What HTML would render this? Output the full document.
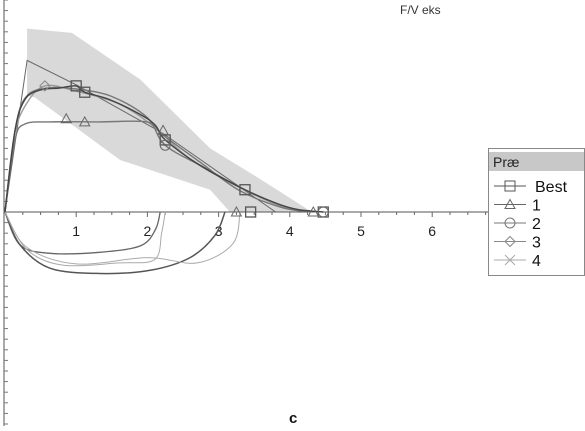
<!DOCTYPE html>
<html><head><meta charset="utf-8"><style>
body{margin:0;background:#fff;width:585px;height:426px;overflow:hidden;font-family:"Liberation Sans",sans-serif}
</style></head><body>
<svg id="c" width="585" height="426" viewBox="0 0 585 426" xmlns="http://www.w3.org/2000/svg"></svg>
<script>
const xTicks=[1,2,3,4,5,6];
const band=[[0.31,17.3],[0.94,16.9],[1.90,12.5],[2.88,6.0],[3.61,3.0],[4.31,0],[3.16,0],[2.88,2.1],[1.62,4.9],[0.42,10.8],[0.31,11.0]];
const predicted=[[0,0],[0.31,14.3],[1.0,12.0],[2.2,7.5],[3.8,0]];
const best=[[0,0],[0.14,7.7],[0.28,10.6],[0.49,11.5],[0.77,11.7],[1.0,11.9],[1.12,11.3],[1.47,10.6],[1.90,9.2],[2.11,8.2],[2.25,6.8],[2.74,4.4],[3.37,2.1],[3.86,0.7],[4.14,0.2],[4.47,0]];
const trial1=[[0,0],[0.14,6.8],[0.28,8.3],[0.63,8.5],[1.33,8.5],[1.99,8.5],[2.18,7.5],[2.25,7.1],[2.74,4.7],[3.30,2.0],[3.9,0.4],[4.33,0]];
const trial2=[[0,0],[0.15,8.0],[0.3,10.9],[0.6,11.7],[1.0,11.6],[1.5,10.9],[2.0,8.9],[2.25,6.3],[2.8,4.2],[3.4,2.0],[4.0,0.4],[4.47,0]];
const trial3=[[0,0],[0.13,7.2],[0.3,10.2],[0.56,11.9],[1.0,11.4],[1.6,10.2],[2.1,8.0],[2.6,5.0],[3.3,2.3],[3.9,0.5],[4.4,0]];
const inspA=[[0,0],[0.21,-3.1],[0.63,-3.9],[1.33,-3.8],[1.90,-3.2],[2.11,-1.7],[2.18,0]];
const inspB=[[0,0],[0.21,-3.1],[0.63,-5.3],[1.33,-5.8],[2.04,-5.5],[2.60,-4.3],[2.95,-2.2],[3.09,0]];
const inspC=[[0,0],[0.3,-3.5],[0.8,-5.0],[1.6,-4.8],[2.1,-4.5],[2.2,-2],[2.25,0]];
const inspD=[[0,0],[0.3,-3.3],[1.0,-4.9],[2.0,-4.3],[2.7,-4.8],[3.2,-3],[3.3,0]];
const squares=[[1.0,11.9],[1.12,11.3],[2.25,6.8],[3.37,2.1],[3.45,0],[4.47,0]];
const triangles=[[0.86,8.8],[1.12,8.5],[2.22,7.7],[3.25,0],[4.33,0]];
const circles=[[2.25,6.3],[4.47,0]];
const diamonds=[[0.56,11.9]];
const X=v=>5+v*71.2, Y=v=>212-v*10.6;
const s=document.getElementById('c'),NS='http://www.w3.org/2000/svg';
function mk(t,a,n){const e=document.createElementNS(NS,t);for(const k in a)e.setAttribute(k,a[k]);


s.appendChild(e);return e;}
const pts=a=>a.map(p=>X(p[0]).toFixed(1)+','+Y(p[1]).toFixed(1)).join(' ');
function smooth(a){const P=a.map(p=>[X(p[0]),Y(p[1])]);let d='M'+P[0][0]+','+P[0][1];
for(let i=0;i<P.length-1;i++){const p0=P[Math.max(0,i-1)],p1=P[i],p2=P[i+1],p3=P[Math.min(P.length-1,i+2)];
const c1=[p1[0]+(p2[0]-p0[0])/6,p1[1]+(p2[1]-p0[1])/6],c2=[p2[0]-(p3[0]-p1[0])/6,p2[1]-(p3[1]-p1[1])/6];
d+=` C${c1[0].toFixed(1)},${c1[1].toFixed(1)} ${c2[0].toFixed(1)},${c2[1].toFixed(1)} ${p2[0].toFixed(1)},${p2[1].toFixed(1)}`;}return d;}
mk('polygon',{points:pts(band),fill:'#d9d9d9'},'normal-range-band');
mk('line',{x1:4,y1:0,x2:4,y2:426,stroke:'#555'},'y-axis');
for(let i=0;i*10.6<426;i++){const y=212-i*10.6,y2=212+i*10.6;
[y,y2].forEach(yy=>{if(yy>=0&&yy<=426){mk('line',{x1:4,y1:yy,x2:8,y2:yy,stroke:'#777'},'y-tick');}});}
mk('line',{x1:4,y1:212,x2:488,y2:212,stroke:'#555'},'x-axis');
for(let v=0.25;v<6.8;v+=0.25){mk('line',{x1:X(v),y1:212,x2:X(v),y2:Math.abs(v%1)<0.01?217:215,stroke:'#666'},'x-tick');}
xTicks.forEach(v=>{const t=mk('text',{x:X(v),y:236,'text-anchor':'middle','font-size':14,fill:'#222'},'x-tick-label');t.textContent=v;});
[[inspA,'#666',1.3],[inspB,'#555',1.5],[inspC,'#aaa',1],[inspD,'#aaa',1]].forEach(c=>mk('path',{d:smooth(c[0]),fill:'none',stroke:c[1],'stroke-width':c[2]},'inspiration-curve'));
mk('polyline',{points:pts(predicted),fill:'none',stroke:'#666','stroke-width':1},'predicted-line');
[[trial3,'#999'],[trial2,'#777'],[trial1,'#777'],[best,'#444']].forEach(c=>mk('path',{d:smooth(c[0]),fill:'none',stroke:c[1],'stroke-width':1.4},'expiration-curve'));
squares.forEach(p=>mk('rect',{x:X(p[0])-5,y:Y(p[1])-5,width:10,height:10,fill:'none',stroke:'#555','stroke-width':1.3},'best-marker'));
triangles.forEach(p=>{const x=X(p[0]),y=Y(p[1]);mk('polygon',{points:`${x-5},${y+4} ${x+5},${y+4} ${x},${y-5}`,fill:'none',stroke:'#666'},'trial1-marker');});
circles.forEach(p=>mk('circle',{cx:X(p[0]),cy:Y(p[1]),r:5,fill:'none',stroke:'#666'},'trial2-marker'));
diamonds.forEach(p=>{const x=X(p[0]),y=Y(p[1]);mk('polygon',{points:`${x-5},${y} ${x},${y-5} ${x+5},${y} ${x},${y+5}`,fill:'none',stroke:'#888'},'trial3-marker');});
mk('text',{x:400,y:14,'font-size':12,fill:'#333'},'chart-title').textContent='F/V eks';
mk('text',{x:289,y:423,'font-size':15,'font-weight':'bold',fill:'#111'},'panel-label').textContent='c';
mk('rect',{x:488.5,y:148.5,width:96,height:127,fill:'#fff',stroke:'#888'},'legend-box');
mk('rect',{x:489,y:152,width:95,height:19,fill:'#c8c8c8'},'legend-header');
mk('text',{x:493,y:167,'font-size':14,fill:'#222'},'legend-title').textContent='Præ';
const lg=[['Best','sq','#555'],['1','tr','#666'],['2','ci','#777'],['3','di','#888'],['4','x','#aaa']];
lg.forEach((l,i)=>{const y=186+i*18.5,cx=510;
mk('line',{x1:494,y1:y,x2:526,y2:y,stroke:l[2]},'legend-line');
if(l[1]=='sq')mk('rect',{x:cx-5,y:y-5,width:10,height:10,fill:'none',stroke:l[2]},'legend-marker');
if(l[1]=='tr')mk('polygon',{points:`${cx-5},${y+4} ${cx+5},${y+4} ${cx},${y-5}`,fill:'none',stroke:l[2]},'legend-marker');
if(l[1]=='ci')mk('circle',{cx:cx,cy:y,r:5,fill:'none',stroke:l[2]},'legend-marker');
if(l[1]=='di')mk('polygon',{points:`${cx-5},${y} ${cx},${y-5} ${cx+5},${y} ${cx},${y+5}`,fill:'none',stroke:l[2]},'legend-marker');
if(l[1]=='x'){mk('line',{x1:cx-5,y1:y-5,x2:cx+5,y2:y+5,stroke:l[2]},'legend-marker');mk('line',{x1:cx-5,y1:y+5,x2:cx+5,y2:y-5,stroke:l[2]},'legend-marker');}
mk('text',{x:l[0]=='Best'?535:532,y:y+6,'font-size':16,fill:'#111'},'legend-label').textContent=l[0];});
</script>
</body></html>
